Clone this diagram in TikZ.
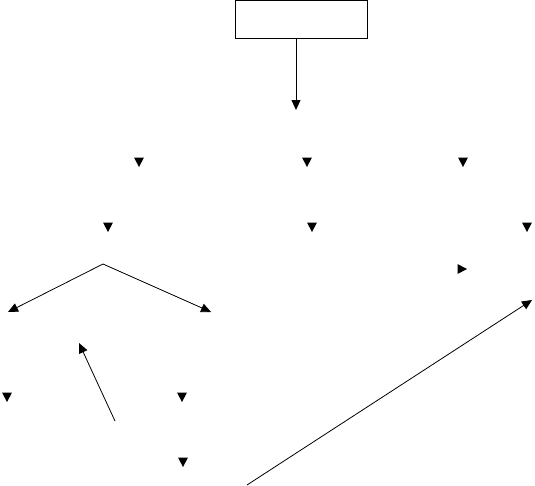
\documentclass[tikz,border=0pt]{standalone}
\usetikzlibrary{arrows.meta}
\begin{document}
\begin{tikzpicture}[x=1pt,y=-1pt,
  line width=0.8pt,
  arr/.style={-{Triangle[length=10pt,width=9pt]}},
  dnhead/.pic={\fill (-5,-9.5) -- (5,-9.5) -- (0,0) -- cycle;},
  rthead/.pic={\fill (-9.5,-5) -- (-9.5,5) -- (0,0) -- cycle;}]
\useasboundingbox (0,0) rectangle (535,485);
% top box
\node[draw, rectangle, minimum width=132pt, minimum height=38pt, inner sep=0pt, outer sep=0pt] (box) at (301.5,19.7) {};
\coordinate (a1) at (296,110);
\draw[arr] (box.south -| a1) -- (a1);
% stray arrowheads
\pic at (139,167) {dnhead};
\pic at (307,167) {dnhead};
\pic at (463,167) {dnhead};
\pic at (108,232) {dnhead};
\pic at (312,232) {dnhead};
\pic at (527,232) {dnhead};
\pic at (7,402) {dnhead};
\pic at (182,402) {dnhead};
\pic at (183,467) {dnhead};
\pic at (467,269) {rthead};
% fork
\coordinate (peak) at (103,264);
\coordinate (fl) at (8,312);
\coordinate (fr) at (211,312);
\draw[arr] (peak) -- (fl);
\draw[arr] (peak) -- (fr);
% short arrow
\coordinate (s1) at (115,421);
\coordinate (s2) at (79,343);
\draw[arr] (s1) -- (s2);
% long arrow
\coordinate (l1) at (247,485);
\coordinate (l2) at (532,300);
\draw[arr] (l1) -- (l2);
\end{tikzpicture}
\end{document}
